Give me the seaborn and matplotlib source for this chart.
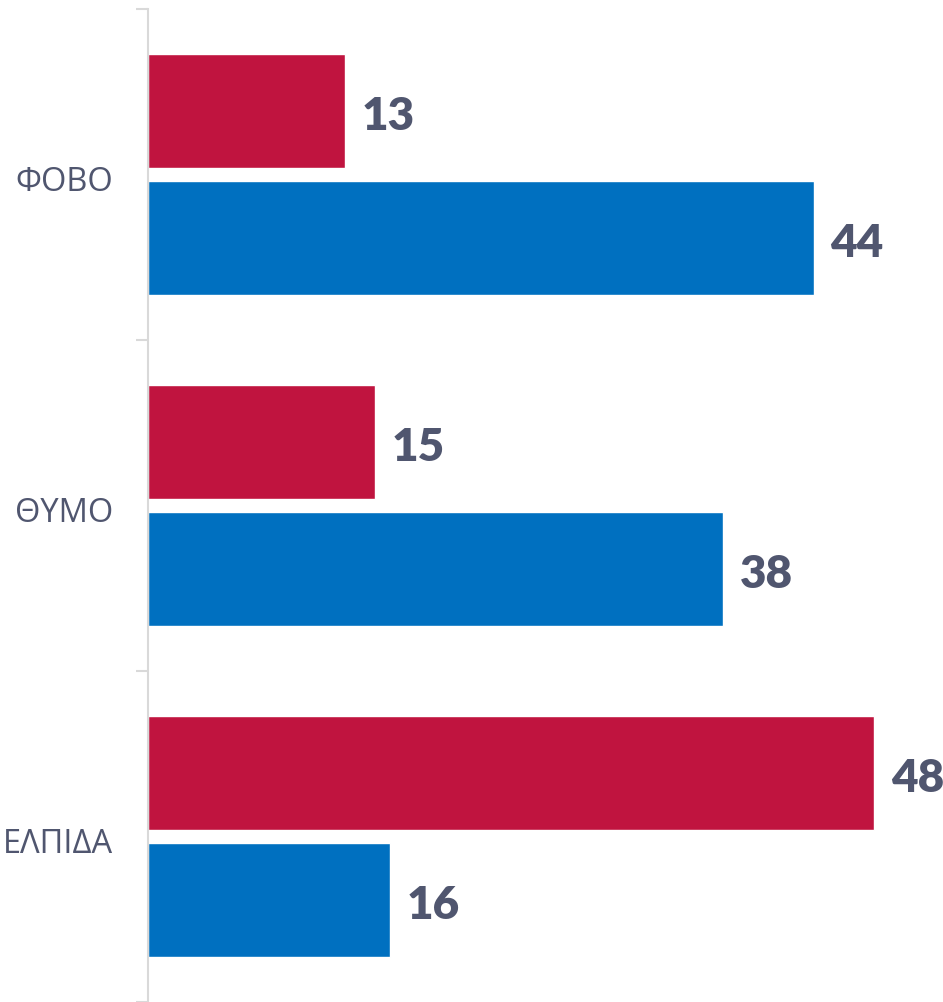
import matplotlib
matplotlib.use("Agg")
import matplotlib.pyplot as plt
import seaborn as sns
import pandas as pd

categories = ["ΦΟΒΟ", "ΘΥΜΟ", "ΕΛΠΙΔΑ"]
series_names = ["Α", "Β"]
red_values = [13, 15, 48]
blue_values = [44, 38, 16]
colors = ["#C0143F", "#0070C0"]

df = pd.DataFrame({
    "cat": categories * 2,
    "series": [series_names[0]] * 3 + [series_names[1]] * 3,
    "value": red_values + blue_values,
})

sns.set_style("white")
plt.rcParams['font.family'] = ['Open Sans', 'DejaVu Sans']

W, H = 943, 1003
fig = plt.figure(figsize=(W / 100, H / 100), dpi=100)
ax = fig.add_axes([148 / W, 0, 1 - 148 / W, 1 - 10 / H])

sns.barplot(data=df, y="cat", x="value", hue="series", order=categories,
            hue_order=series_names, palette=colors, orient="h",
            width=0.768, gap=0.105, legend=False, ax=ax, saturation=1)

ax.set_ylim(2.5, -0.5)
ax.set_xlim(0, (W - 148) / 15.13)
ax.set_xlabel("")
ax.set_ylabel("")
ax.set_xticks([])
ax.set_yticks([-0.5, 0.5, 1.5, 2.5])
ax.set_yticklabels([])
ax.set_yticks([0.01, 1.01, 2.01], minor=True)
ax.set_yticklabels(categories, minor=True)
ax.tick_params(axis="y", which="major", left=True, length=8.6, width=1.5,
               color="#D9D9D9", direction="out")
ax.tick_params(axis="y", which="minor", left=False, length=0, pad=25,
               labelsize=23.5, labelcolor="#50566F")

for s in ["top", "right", "bottom"]:
    ax.spines[s].set_visible(False)
ax.spines["left"].set_color("#D9D9D9")
ax.spines["left"].set_linewidth(1.5)

for cont in ax.containers:
    texts = ax.bar_label(cont, labels=[f"{v:g}" for v in cont.datavalues], padding=12,
                         fontsize=33, fontweight="heavy", color="#50566F",
                         family=["Lato", "DejaVu Sans"])
    for t in texts:
        t.xyann = (t.xyann[0], t.xyann[1] - 3)

fig.savefig("out.png", dpi=100)
